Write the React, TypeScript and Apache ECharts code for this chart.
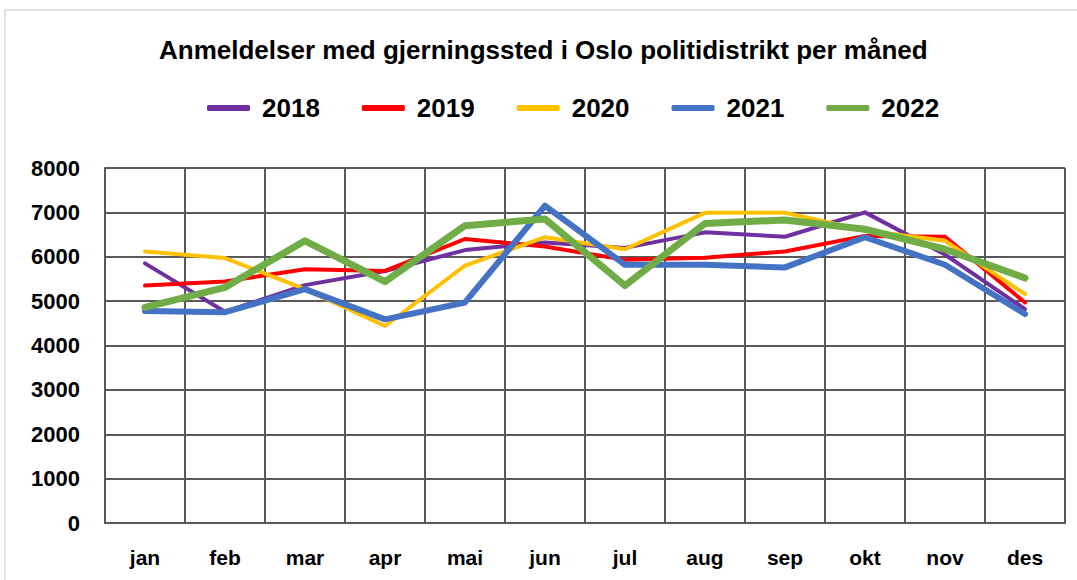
import React, { useEffect, useRef } from "react";
import * as echarts from "echarts";

const months = ["jan", "feb", "mar", "apr", "mai", "jun", "jul", "aug", "sep", "okt", "nov", "des"];
const s2018 = [5850, 4760, 5360, 5680, 6150, 6320, 6200, 6550, 6450, 7000, 6050, 4820];
const s2019 = [5350, 5440, 5720, 5680, 6400, 6230, 5930, 5980, 6120, 6470, 6450, 4970];
const s2020 = [6120, 5970, 5270, 4440, 5800, 6440, 6170, 6990, 6990, 6590, 6360, 5160];
const s2021 = [4780, 4750, 5270, 4590, 4970, 7150, 5820, 5820, 5760, 6440, 5820, 4710];
const s2022 = [4860, 5310, 6360, 5440, 6700, 6850, 5350, 6750, 6830, 6620, 6170, 5520];
const yTicks = [0, 1000, 2000, 3000, 4000, 5000, 6000, 7000, 8000];

const FONT = "'Liberation Sans', Arial, sans-serif";

export default function App() {
  const ref = useRef<HTMLDivElement>(null);
  useEffect(() => {
    if (!ref.current) return;
    const chart = echarts.init(ref.current, null, { renderer: "svg" });
    const mk = (name: string, data: number[], color: string, width: number) => ({
      name,
      type: "line",
      data,
      showSymbol: false,
      symbol: "none",
      lineStyle: { color, width, cap: "round", join: "round" },
      itemStyle: { color },
    });
    chart.setOption({
      animation: false,
      backgroundColor: "#ffffff",
      title: {
        text: "Anmeldelser med gjerningssted i Oslo politidistrikt per måned",
        left: 154,
        top: 32,
        textStyle: { fontFamily: FONT, fontSize: 26, fontWeight: "bold", color: "#000" },
      },
      legend: {
        top: 90,
        left: 202,
        itemWidth: 43,
        itemHeight: 6,
        itemGap: 42,
        icon: "roundRect",
        textStyle: { fontFamily: FONT, fontSize: 26, fontWeight: "bold", color: "#000", padding: [0, 0, 0, 7] },
        data: ["2018", "2019", "2020", "2021", "2022"],
      },
      graphic: [
        {
          type: "rect",
          shape: { x: 5, y: 10, width: 1200, height: 700 },
          style: { fill: "none", stroke: "#d9d9d9", lineWidth: 1.5 },
          silent: true,
        },
      ],
      grid: { left: 105, right: 12, top: 168, bottom: 57, containLabel: false },
      xAxis: {
        type: "category",
        data: months,
        boundaryGap: true,
        axisLine: { lineStyle: { color: "#595959", width: 2 } },
        axisTick: { show: false },
        splitLine: { show: true, lineStyle: { color: "#595959", width: 2 } },
        axisLabel: { fontFamily: FONT, fontSize: 21, fontWeight: "bold", color: "#000", margin: 24 },
      },
      yAxis: {
        type: "value",
        min: yTicks[0],
        max: yTicks[yTicks.length - 1],
        interval: 1000,
        axisLine: { show: true, lineStyle: { color: "#595959", width: 2 } },
        axisTick: { show: false },
        splitLine: { show: true, lineStyle: { color: "#595959", width: 2 } },
        axisLabel: {
          fontFamily: FONT,
          fontSize: 22,
          fontWeight: "bold",
          color: "#000",
          margin: 25,
          formatter: (v: number) => String(v),
        },
      },
      series: [
        mk("2018", s2018, "#7030A0", 4),
        mk("2019", s2019, "#FF0000", 4),
        mk("2020", s2020, "#FFC000", 4),
        mk("2021", s2021, "#4472C4", 6),
        mk("2022", s2022, "#70AD47", 7),
      ],
    });
    return () => chart.dispose();
  }, []);
  return (
    <div
      ref={ref}
      style={{ position: "fixed", left: 0, top: 0, width: 1077, height: 580 }}
    />
  );
}
